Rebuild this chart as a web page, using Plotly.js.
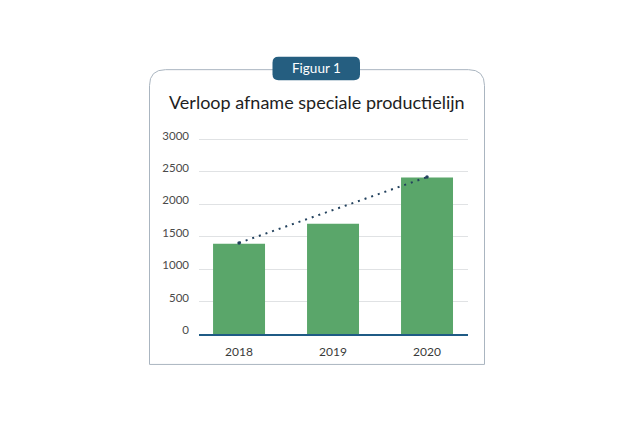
<!DOCTYPE html>
<html>
<head>
<meta charset="utf-8">
<script src="https://cdn.plot.ly/plotly-3.0.1.min.js"></script>
<style>html,body{margin:0;padding:0;background:#fff;}#chart{width:643px;height:430px;}</style>
</head>
<body>
<div id="chart"></div>
<script>
const years = ['2018', '2019', '2020'];
const afname = [1390, 1700, 2415];
const trendYears = ['2018', '2020'];
const trendValues = [1405, 2420];
const yTicks = [0, 500, 1000, 1500, 2000, 2500, 3000];
const chartTitle = 'Verloop afname speciale productielijn';
const figLabel = 'Figuur 1';

const W = 643, H = 430;
const PL = 199, PR = 468, PT = 132.5, PB = 334;
const px = x => (x - PL) / (PR - PL);
const py = y => (PB - y) / (PB - PT);

function roundTopRect(x0, y0, x1, y1, r) {
  return 'M ' + px(x0) + ' ' + py(y1) +
    ' L ' + px(x0) + ' ' + py(y0 + r) +
    ' Q ' + px(x0) + ' ' + py(y0) + ' ' + px(x0 + r) + ' ' + py(y0) +
    ' L ' + px(x1 - r) + ' ' + py(y0) +
    ' Q ' + px(x1) + ' ' + py(y0) + ' ' + px(x1) + ' ' + py(y0 + r) +
    ' L ' + px(x1) + ' ' + py(y1) + ' Z';
}
function roundRect(x0, y0, x1, y1, r) {
  return 'M ' + px(x0 + r) + ' ' + py(y0) +
    ' L ' + px(x1 - r) + ' ' + py(y0) +
    ' Q ' + px(x1) + ' ' + py(y0) + ' ' + px(x1) + ' ' + py(y0 + r) +
    ' L ' + px(x1) + ' ' + py(y1 - r) +
    ' Q ' + px(x1) + ' ' + py(y1) + ' ' + px(x1 - r) + ' ' + py(y1) +
    ' L ' + px(x0 + r) + ' ' + py(y1) +
    ' Q ' + px(x0) + ' ' + py(y1) + ' ' + px(x0) + ' ' + py(y1 - r) +
    ' L ' + px(x0) + ' ' + py(y0 + r) +
    ' Q ' + px(x0) + ' ' + py(y0) + ' ' + px(x0 + r) + ' ' + py(y0) + ' Z';
}

const data = [
  {
    type: 'bar', x: years, y: afname,
    marker: {color: '#5aa66a'}, width: 0.553,
    hoverinfo: 'x+y'
  },
  {
    type: 'scatter', mode: 'lines+markers', x: trendYears, y: trendValues,
    line: {color: '#23425e', width: 2, dash: '2px,5px'},
    marker: {color: '#23425e', size: 3.5},
    hoverinfo: 'skip'
  }
];

const layout = {
  width: W, height: H,
  margin: {l: PL, r: W - PR, t: PT, b: H - PB, pad: 0},
  paper_bgcolor: '#ffffff', plot_bgcolor: 'rgba(0,0,0,0)',
  showlegend: false,
  font: {family: 'Lato, "Open Sans", sans-serif', color: '#444'},
  xaxis: {
    type: 'category', range: [-0.426, 2.436],
    showgrid: false, zeroline: false,
    showline: true, linecolor: '#1f5b85', linewidth: 2,
    ticks: '', tickfont: {size: 12, color: '#3a3a3a'},
    ticklabelstandoff: 6, fixedrange: true
  },
  yaxis: {
    range: [0, 3100], tickvals: yTicks, ticktext: yTicks.map(String),
    showgrid: true, gridcolor: '#e0e2e4', gridwidth: 1,
    zeroline: false, showline: false, ticks: '',
    tickfont: {size: 11.5, color: '#4a4a4a'},
    ticklabelstandoff: 9, ticklabelshift: -4, fixedrange: true
  },
  shapes: [
    {type: 'path', xref: 'paper', yref: 'paper', layer: 'below',
     path: roundTopRect(149.5, 69, 484.5, 364.5, 16),
     line: {color: '#aab5c0', width: 1}, fillcolor: 'rgba(0,0,0,0)'},
    {type: 'path', xref: 'paper', yref: 'paper', layer: 'above',
     path: roundRect(272.5, 56, 360, 79.5, 6),
     line: {color: '#255e80', width: 0}, fillcolor: '#255e80'}
  ],
  annotations: [
    {xref: 'paper', yref: 'paper', x: px(316.5), y: py(67.5), text: figLabel,
     showarrow: false, xanchor: 'center', yanchor: 'middle',
     font: {size: 13.5, color: '#ffffff', family: 'Lato, sans-serif'}},
    {xref: 'paper', yref: 'paper', x: px(317), y: py(101), text: chartTitle,
     showarrow: false, xanchor: 'center', yanchor: 'middle',
     font: {size: 18, color: '#1e1e1e', family: 'Lato, sans-serif'}}
  ]
};

Plotly.newPlot('chart', data, layout, {displayModeBar: false, staticPlot: true});
</script>
</body>
</html>
